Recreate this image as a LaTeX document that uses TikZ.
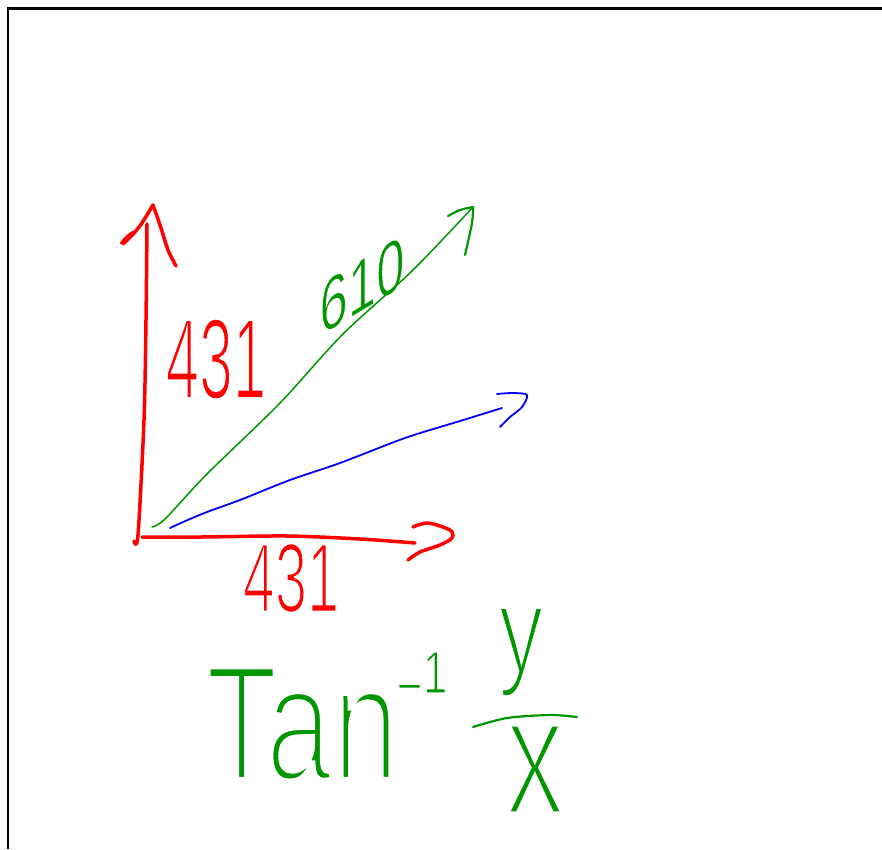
\documentclass[tikz,border=0pt]{standalone}
\usepackage{fontspec}
\setmainfont{Liberation Sans}
\newfontfamily\fa{Liberation Sans}[FakeStretch=0.53]
\newfontfamily\fb{Liberation Sans}[FakeStretch=0.59]
\newfontfamily\fc{Liberation Sans}[FakeStretch=0.68]
\newfontfamily\fg{Liberation Sans}[FakeStretch=0.73]
\newfontfamily\fd{Liberation Sans}[FakeStretch=0.75]
\newfontfamily\fe{Liberation Sans}[FakeStretch=0.74]
\newfontfamily\ff{Liberation Sans}[FakeStretch=0.7]
\definecolor{pengreen}{RGB}{0,150,0}
\tikzset{
  redpen/.style={draw=red, line width=3.5pt, line cap=round, line join=round},
  greenpen/.style={draw=pengreen, line width=1.5pt, line cap=round, line join=round},
  bluepen/.style={draw=blue, line width=1.8pt, line cap=round, line join=round},
  hand/.style={inner sep=0pt, outer sep=0pt},
}
% font, size, white stroke width (thins the glyphs), text
\newcommand\pen[4]{{#1\fontsize{#2}{#2}\selectfont\special{pdf:literal direct 2 Tr #3 w 1 1 1 RG}#4\special{pdf:literal direct 0 Tr}}}
\begin{document}
\begin{tikzpicture}[x=1pt,y=-1pt]
\useasboundingbox (0,0) rectangle (882,849);
\fill[white] (0,0) rectangle (882,849);
% labels
\node[hand, text=red] (vlabel) at (216,359) {\pen{\fa}{114}{2}{431}};
\node[hand, text=red] (hlabel) at (291,578) {\pen{\fb}{98}{2}{431}};
\node[hand, text=pengreen, yslant=0.6] (glabel) at (362,285) {\pen{\fc}{75}{1}{610}};
% formula
\node[hand, text=pengreen] (tan) at (302,724) {\pen{\fg}{165}{6}{Tan}};
\node[hand, text=pengreen] (inv) at (422,679) {\pen{\fd}{60}{1.5}{\raisebox{-0.22em}{−}1}};
\node[hand, text=pengreen] (num) at (521,652) {\pen{\fe}{122}{3.5}{y}};
\node[hand, text=pengreen] (den) at (535,769) {\pen{\ff}{170}{5}{x}};
% frame
\draw[line width=2.2pt] (8,849) -- (8,8.5) -- (882,8.5);
% vertical red axis
\draw[redpen] plot[smooth] coordinates {(134,541) (138,535) (144,420) (146,320) (147,224)};
\draw[redpen] plot[smooth] coordinates {(123,244) (134,233) (142,223) (153,205)};
\draw[redpen] plot[smooth] coordinates {(153,205) (161,228) (168,250) (176,266)};
\draw[redpen, line width=2pt] plot[smooth cycle] coordinates {(121,243) (127,236) (133,232) (128,240)};
% horizontal red axis
\draw[redpen] plot[smooth] coordinates {(142,537) (200,537) (287,536) (360,539) (415,543)};
\draw[redpen] plot[smooth] coordinates {(413,527) (428,523) (450,530) (452,538) (440,545) (420,552) (408,560)};
% green line
\draw[greenpen] plot[smooth] coordinates {(152,527) (165,519) (207,474) (280,403) (343,334) (413,270) (473,207)};
\draw[greenpen, line width=2.2pt] plot[smooth] coordinates {(448,216) (460,210) (473,207)};
\draw[greenpen, line width=2.2pt] plot[smooth] coordinates {(473,207) (472,223) (465,255)};
% blue line
\draw[bluepen] plot[smooth] coordinates {(170,528) (183,522) (207,512) (240,500) (290,480) (340,463) (405,438) (460,421) (502,408)};
\draw[bluepen] plot[smooth] coordinates {(497,394) (513,393) (527,395) (522,407) (510,417) (500,427)};
% fraction bar
\draw[greenpen, line width=2.2pt] plot[smooth] coordinates {(473,727) (507,718) (550,715) (577,717)};
\end{tikzpicture}
\end{document}
